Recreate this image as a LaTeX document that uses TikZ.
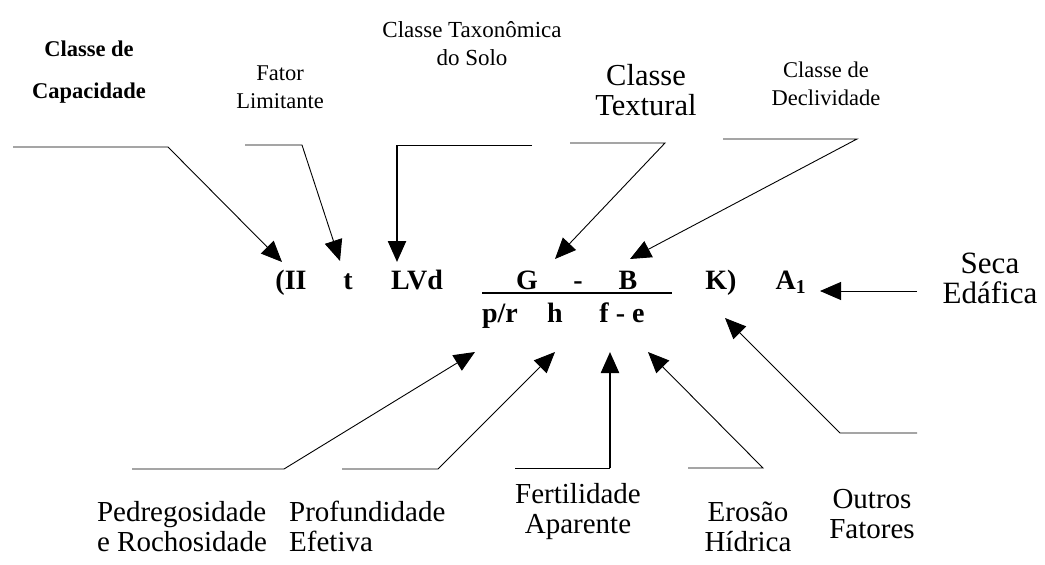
\documentclass[tikz,border=0pt]{standalone}
\usepackage{fontspec}
\setmainfont{Liberation Serif}
\usetikzlibrary{arrows.meta}
\begin{document}
\begin{tikzpicture}[x=1pt,y=-1pt,
  lbl/.style={align=center, anchor=base, inner sep=0pt},
  sm/.style={lbl, font=\fontsize{22.5}{28}\selectfont},
  smb/.style={lbl, font=\fontsize{22.5}{42}\selectfont\bfseries},
  big/.style={lbl, font=\fontsize{29}{30}\selectfont},
  fm/.style={anchor=base, inner sep=0pt, font=\fontsize{28}{30}\selectfont\bfseries},
  conn/.style={line width=0.9pt, -{Triangle[length=21pt,width=18pt]}},
  tconn/.style={line width=2.4pt, -{Triangle[length=21pt,width=18pt]}},
  fracline/.style={line width=2.4pt}
]
\useasboundingbox (0,0) rectangle (1045,565);

% top labels (position = baseline of last line)
\node[smb] (cap) at (89,98) {Classe de\\Capacidade};
\node[sm] (fat) at (280,108) {Fator\\Limitante};
\node[sm, font=\fontsize{23}{28}\selectfont] (tax) at (472,65) {Classe Taxonômica\\do Solo};
\node[big, font=\fontsize{30.5}{30}\selectfont] (tex) at (646,115) {Classe\\Textural};
\node[sm] (dec) at (826,105) {Classe de\\Declividade};
\node[big, font=\fontsize{31}{30}\selectfont] (seca) at (990,303) {Seca\\Edáfica};

% formula
\node[fm] (II) at (291,289) {(II};
\node[fm] (t) at (348,289) {t};
\node[fm] (LVd) at (417,289) {LVd};
\node[fm] (G) at (527,289) {G};
\node[fm] (d1) at (578,289) {-};
\node[fm] (B) at (628,289) {B};
\node[fm] (K) at (721,289) {K)};
\node[fm] (A) at (791,289) {A\textsubscript{1}};
\draw[fracline] (482,293) -- (672,293);
\node[fm] (pr) at (500,322) {p/r};
\node[fm] (h) at (555,322) {h};
\node[fm] (fe) at (622,322) {f - e};

% bottom labels (position = baseline of last line)
\node[big, align=left] (ped) at (182,551) {Pedregosidade\\e Rochosidade};
\node[big, align=left, anchor=base west] (pro) at (289,551) {Profundidade\\Efetiva};
\node[big] (fer) at (578,533) {Fertilidade\\Aparente};
\node[big] (ero) at (748,551) {Erosão\\Hídrica};
\node[big] (out) at (872,538) {Outros\\Fatores};

% coordinates
\coordinate (c1a) at (13,147);   \coordinate (c1b) at (168,147); \coordinate (c1t) at (282,262);
\coordinate (c2a) at (245,145);  \coordinate (c2b) at (302,145); \coordinate (c2t) at (340,261);
\coordinate (c3a) at (532,145);  \coordinate (c3b) at (397,145); \coordinate (c3t) at (397,262);
\coordinate (c4a) at (570,143);  \coordinate (c4b) at (665,143); \coordinate (c4t) at (555,259);
\coordinate (c5a) at (723,139);  \coordinate (c5b) at (857,139); \coordinate (c5t) at (630,259);
\coordinate (s1) at (917,291);   \coordinate (st) at (820,291);
\coordinate (b1a) at (132,469);  \coordinate (b1b) at (284,469); \coordinate (b1t) at (475,352);
\coordinate (b2a) at (342,469);  \coordinate (b2b) at (438,469); \coordinate (b2t) at (555,352);
\coordinate (b3a) at (515,468);  \coordinate (b3b) at (610,468); \coordinate (b3t) at (610,352);
\coordinate (b4a) at (688,468);  \coordinate (b4b) at (763,468); \coordinate (b4t) at (648,352);
\coordinate (b5a) at (917,433);  \coordinate (b5b) at (840,433); \coordinate (b5t) at (725,318);

% connectors
\draw[conn] (c1a) -- (c1b) -- (c1t);
\draw[conn] (c2a) -- (c2b) -- (c2t);
\draw[line width=0.9pt] (c3a) -- (c3b);
\draw[tconn] (c3b) -- (c3t);
\draw[conn] (c4a) -- (c4b) -- (c4t);
\draw[conn] (c5a) -- (c5b) -- (c5t);
\draw[conn] (s1) -- (st);
\draw[conn] (b1a) -- (b1b) -- (b1t);
\draw[conn] (b2a) -- (b2b) -- (b2t);
\draw[line width=0.9pt] (b3a) -- (b3b);
\draw[tconn] (b3b) -- (b3t);
\draw[conn] (b4a) -- (b4b) -- (b4t);
\draw[conn] (b5a) -- (b5b) -- (b5t);
\end{tikzpicture}
\end{document}
